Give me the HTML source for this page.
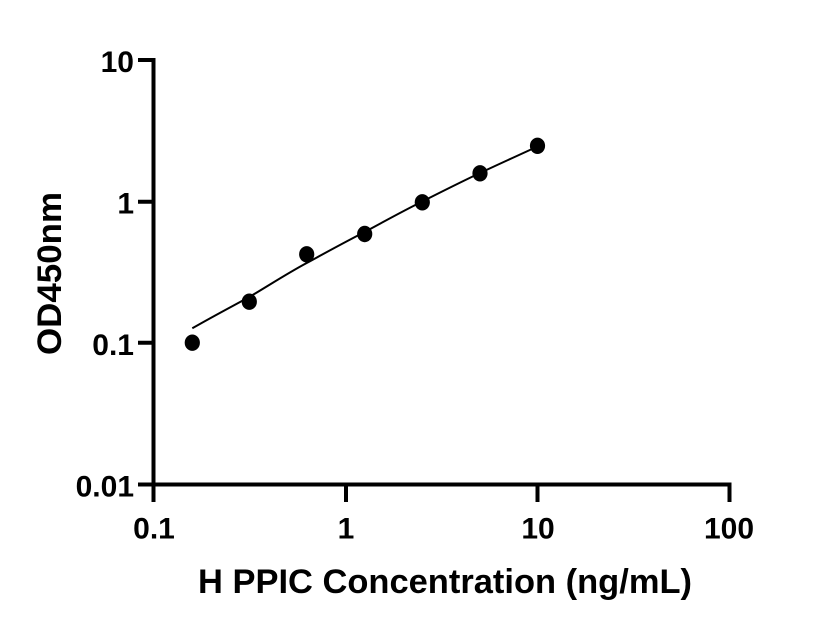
<!DOCTYPE html>
<html>
<head>
<meta charset="utf-8">
<style>
html,body{margin:0;padding:0;background:#fff;}
svg{display:block;}
text{font-family:"Liberation Sans",Arial,sans-serif;font-weight:bold;fill:#000;}
</style>
</head>
<body>
<svg width="816" height="640" viewBox="0 0 816 640" xmlns="http://www.w3.org/2000/svg">
<rect width="816" height="640" fill="#fff"/>
<!-- axes -->
<g stroke="#000" stroke-width="4" fill="none" stroke-linecap="butt">
  <line x1="153.5" y1="58" x2="153.5" y2="502"/>
  <line x1="138" y1="60" x2="155.5" y2="60"/>
  <line x1="138" y1="201.7" x2="155.5" y2="201.7"/>
  <line x1="138" y1="342.7" x2="155.5" y2="342.7"/>
  <line x1="138" y1="484.5" x2="155.5" y2="484.5"/>
  <line x1="151.5" y1="484.5" x2="731.5" y2="484.5"/>
  <line x1="346" y1="482.5" x2="346" y2="502"/>
  <line x1="537.5" y1="482.5" x2="537.5" y2="502"/>
  <line x1="729.5" y1="482.5" x2="729.5" y2="502"/>
</g>
<!-- y tick labels -->
<g font-size="30" text-anchor="end">
  <text x="134" y="72">10</text>
  <text x="134" y="213.5">1</text>
  <text x="134" y="355">0.1</text>
  <text x="134" y="496.5">0.01</text>
</g>
<!-- x tick labels -->
<g font-size="30" text-anchor="middle">
  <text x="154" y="538.5">0.1</text>
  <text x="346" y="538.5">1</text>
  <text x="538" y="538.5">10</text>
  <text x="729" y="538.5">100</text>
</g>
<!-- axis titles -->
<text x="445" y="593" font-size="34.5" text-anchor="middle" textLength="494" lengthAdjust="spacingAndGlyphs">H PPIC Concentration (ng/mL)</text>
<text transform="translate(61,273.5) rotate(-90)" font-size="34.5" text-anchor="middle" textLength="163" lengthAdjust="spacingAndGlyphs">OD450nm</text>
<!-- fit curve -->
<path d="M192.3,328.3 C211,317.5 230,307.5 249.3,297 C268,286 287,273.5 306.7,263 C326,252.5 345,242 364.7,232 C384,221.5 403,211 422.3,201.5 C441,192 461,182 480,173 C499,164 518,155.5 537.5,146.5" fill="none" stroke="#000" stroke-width="2"/>
<!-- data points -->
<g fill="#000">
  <ellipse cx="192.3" cy="342.7" rx="7.6" ry="8.2"/>
  <ellipse cx="249.3" cy="301.7" rx="7.6" ry="8.2"/>
  <ellipse cx="306.7" cy="254.3" rx="7.6" ry="8.2"/>
  <ellipse cx="364.7" cy="234" rx="7.6" ry="8.2"/>
  <ellipse cx="422.3" cy="202.3" rx="7.6" ry="8.2"/>
  <ellipse cx="480" cy="173.3" rx="7.6" ry="8.2"/>
  <ellipse cx="537.5" cy="145.8" rx="7.6" ry="8.2"/>
</g>
</svg>
</body>
</html>
